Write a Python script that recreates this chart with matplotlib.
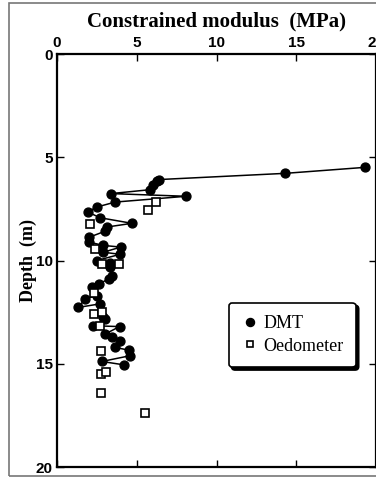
import matplotlib
matplotlib.use("Agg")
import matplotlib.pyplot as plt
from matplotlib.patches import Rectangle
from matplotlib.lines import Line2D

# DMT constrained modulus (MPa) and depth (m)
dmt_modulus = [19.3, 14.3, 6.4, 6.3, 6.05, 5.85, 3.38, 8.1, 3.65, 2.5, 1.93,
               2.7, 4.7, 3.12, 3.02, 2.03, 2.03, 2.9, 4.0, 2.9, 3.96, 2.5,
               3.3, 3.33, 3.44, 3.23, 2.66, 2.18, 2.5, 1.76, 1.34, 2.7, 2.91,
               3.02, 2.28, 3.92, 3.02, 3.44, 3.92, 3.65, 4.49, 4.59, 2.81, 4.17]
dmt_depth = [5.49, 5.78, 6.08, 6.15, 6.36, 6.57, 6.76, 6.89, 7.17, 7.41, 7.65,
             7.93, 8.2, 8.38, 8.58, 8.87, 9.11, 9.27, 9.35, 9.6, 9.7, 10.0,
             10.13, 10.32, 10.73, 10.89, 11.13, 11.26, 11.7, 11.86, 12.27, 12.1, 12.75,
             12.83, 13.16, 13.2, 13.56, 13.69, 13.88, 14.21, 14.34, 14.61, 14.89, 15.05]

# Oedometer constrained modulus (MPa) and depth (m)
oed_modulus = [6.2, 5.7, 2.1, 2.4, 2.8, 3.9, 2.3, 2.3, 2.8, 2.7, 2.75, 2.75, 3.05, 2.75, 5.5]
oed_depth = [7.15, 7.55, 8.25, 9.45, 10.15, 10.15, 11.55, 12.6, 12.5, 13.15, 14.4, 15.5, 15.4, 16.4, 17.4]

x_ticks = [0, 5, 10, 15, 20]
y_ticks = [0, 5, 10, 15, 20]

fig = plt.figure(figsize=(3.76, 4.78), dpi=100)
# outer frame
fig.patches.append(Rectangle((9/376, 2/478), 1.2, (473)/478, transform=fig.transFigure,
                             fill=False, edgecolor='#777777', linewidth=1.2))

ax = fig.add_axes([57/376, 1 - 467/478, 319/376, (467 - 54)/478])
ax.plot(dmt_modulus, dmt_depth, '-', color='black', linewidth=1.1, zorder=2)
ax.plot(dmt_modulus, dmt_depth, 'o', color='black', markersize=6.4, zorder=3)
ax.plot(oed_modulus, oed_depth, 's', markerfacecolor='white', markeredgecolor='black',
        markersize=5.2, markeredgewidth=1.2, linestyle='none', zorder=4)

ax.set_xlim(0, 20)
ax.set_ylim(20, 0)
ax.xaxis.tick_top()
ax.set_xticks(x_ticks)
ax.set_yticks(y_ticks)
for lab in ax.get_xticklabels() + ax.get_yticklabels():
    lab.set_fontfamily('Liberation Sans')
    lab.set_fontweight('bold')
    lab.set_fontsize(11)
ax.tick_params(axis='both', direction='in', length=5, width=1.0, pad=3,
               top=True, bottom=True, left=True, right=True)
for s in ax.spines.values():
    s.set_linewidth(1.6)

ax.set_title('Constrained modulus  (MPa)', fontfamily='Liberation Serif',
             fontweight='bold', fontsize=15, pad=20)
ax.set_ylabel('Depth  (m)', fontfamily='Liberation Serif', fontweight='bold',
              fontsize=13, labelpad=-1)

handles = [Line2D([], [], marker='o', color='black', linestyle='none', markersize=5.8),
           Line2D([], [], marker='s', markerfacecolor='white', markeredgecolor='black',
                  markeredgewidth=1.2, linestyle='none', markersize=5)]
leg = ax.legend(handles, ['DMT', 'Oedometer'], loc='upper left',
                bbox_to_anchor=(0.51, 0.42), prop={'family': 'Liberation Serif', 'size': 13},
                frameon=True, fancybox=True, shadow={'color': 'black', 'alpha': 1},
                handletextpad=0.2, handlelength=1.0, borderpad=0.7, labelspacing=0.3,
                edgecolor='black', framealpha=1)
leg.get_frame().set_linewidth(1.2)

fig.savefig('out.png', dpi=100)
